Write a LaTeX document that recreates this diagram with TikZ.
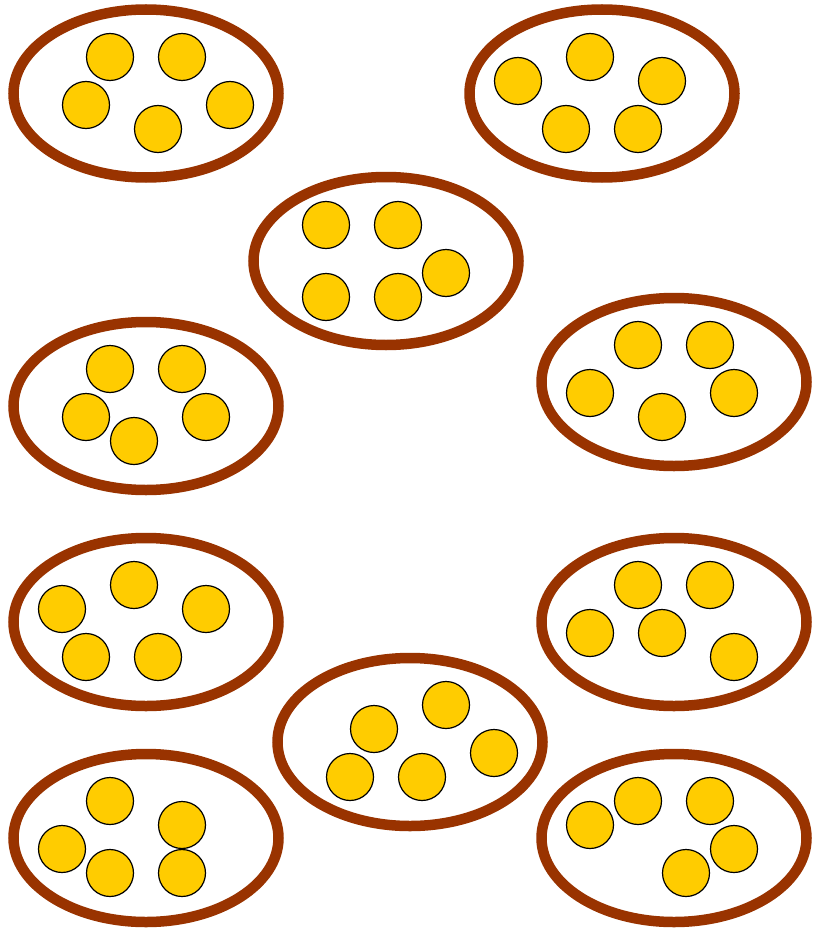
\documentclass[tikz,border=0pt]{standalone}
\usepackage{tikz}
\usetikzlibrary{shapes.geometric}

\definecolor{rim}{HTML}{993300}
\definecolor{coin}{HTML}{FFCC00}

\begin{document}
\begin{tikzpicture}[
    x=1pt, y=-1pt,
    bag/.style={draw=rim, ellipse, line width=10.5pt, fill=white, inner sep=0pt,
                minimum width=265pt, minimum height=168pt},
    dot/.style={draw=black, circle, line width=1.2pt, fill=coin, inner sep=0pt,
                minimum size=47pt},
]
\useasboundingbox (0,0) rectangle (814,931);

% the ten groups
\node[bag] (bag1) at (146,93.5) {};
\node[bag] (bag2) at (602,93.5) {};
\node[bag] (bag3) at (386,261) {};
\node[bag] (bag4) at (146,406) {};
\node[bag] (bag5) at (674,382) {};
\node[bag] (bag6) at (146,622) {};
\node[bag] (bag7) at (674,622) {};
\node[bag] (bag8) at (410,742) {};
\node[bag] (bag9) at (146,838) {};
\node[bag] (bag10) at (674,838) {};

% five counters in each group
\foreach \px/\py [count=\i] in {110/57, 182/57, 86/105, 230/105, 158/129,
    590/57, 518/81, 662/81, 566/129, 638/129,
    326/225, 398/225, 446/273, 326/297, 398/297,
    110/369, 182/369, 86/417, 206/417, 134/441,
    638/345, 710/345, 590/393, 734/393, 662/417,
    134/585, 62/609, 206/609, 86/657, 158/657,
    638/585, 710/585, 590/633, 662/633, 734/657,
    446/705, 374/729, 494/753, 350/777, 422/777,
    110/801, 182/825, 62/849, 110/873, 182/873,
    638/801, 710/801, 590/825, 734/849, 686/873}
    \node[dot] (c\i) at (\px,\py) {};

\end{tikzpicture}
\end{document}
